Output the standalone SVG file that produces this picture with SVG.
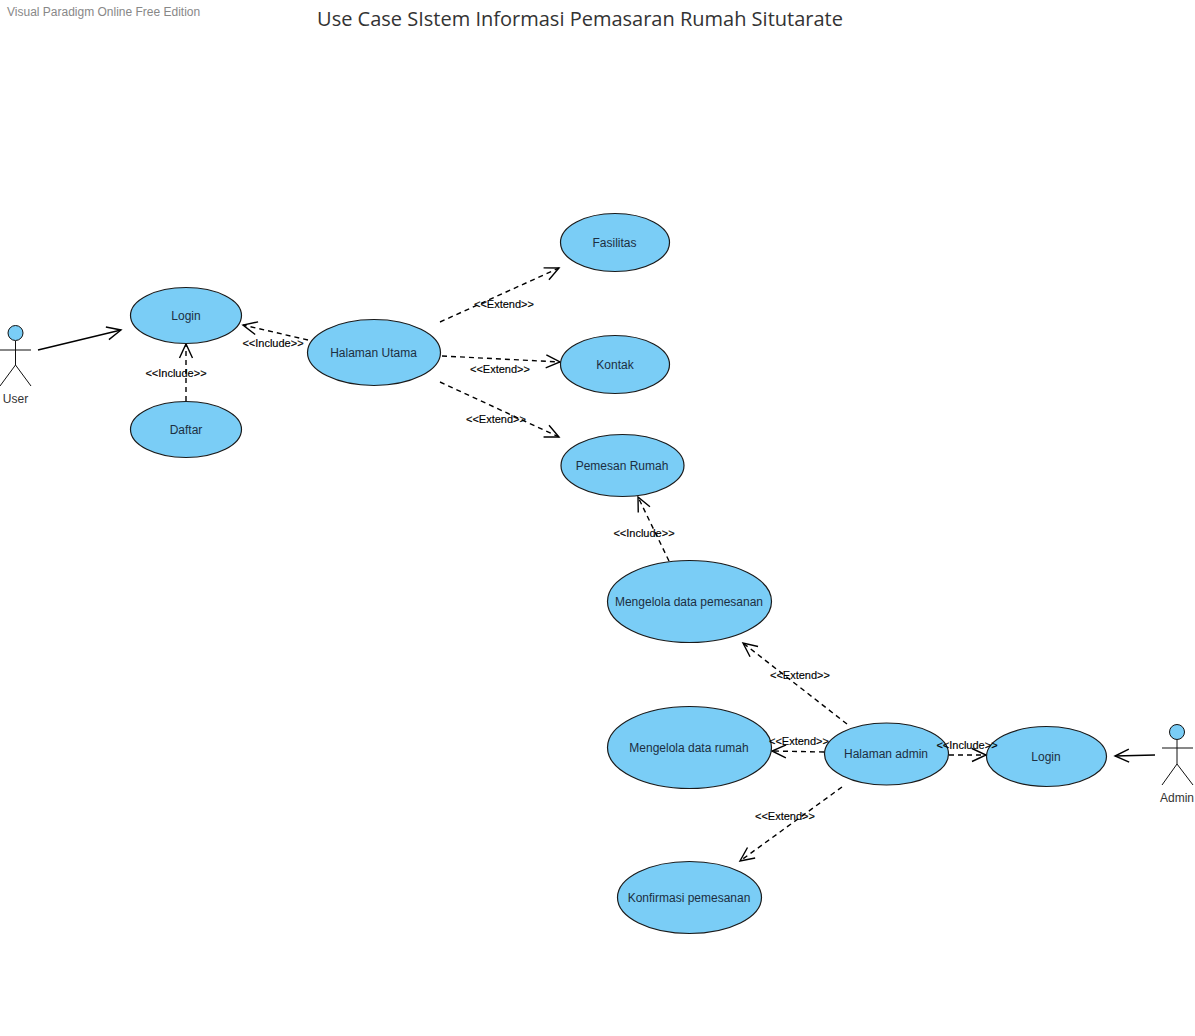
<svg xmlns="http://www.w3.org/2000/svg" width="1195" height="1036" viewBox="0 0 1195 1036">
<style>
text{font-family:"Liberation Sans",Arial,sans-serif}
.uc{fill:#7acdf6;stroke:#1a1a1a;stroke-width:1.2}
.n{font-size:12px;fill:#1c2f42;text-anchor:middle}
.l{font-size:11px;fill:#000;text-anchor:middle;stroke:#000;stroke-width:.15}
.a{font-size:12px;fill:#333;text-anchor:middle}
.c{fill:none;stroke:#000;stroke-width:1.4}
.d{stroke-dasharray:5 4}
.s{fill:none;stroke:#111;stroke-width:1}
.h{fill:#7acdf6;stroke:#111;stroke-width:1}
</style>
<defs>
<marker id="o" markerUnits="userSpaceOnUse" markerWidth="18" markerHeight="18" refX="15" refY="9" orient="auto"><path d="M1 2.5L15 9L1 15.5" fill="none" stroke="#000" stroke-width="1.4"/></marker>
</defs>
<rect width="1195" height="1036" fill="#fff"/>
<text x="7" y="16" font-size="12" fill="#888">Visual Paradigm Online Free Edition</text>
<text x="580" y="26" font-size="20" fill="#333" text-anchor="middle" style="font-family:'Open Sans',sans-serif">Use Case SIstem Informasi Pemasaran Rumah Situtarate</text>
<g id="connectors">
<path class="c" marker-end="url(#o)" d="M38 350L121 330"/>
<path class="c d" marker-end="url(#o)" d="M186 401V344"/>
<path class="c d" marker-end="url(#o)" d="M308 340L243 325"/>
<path class="c d" marker-end="url(#o)" d="M440 322L559 268"/>
<path class="c d" marker-end="url(#o)" d="M442 356L560 362"/>
<path class="c d" marker-end="url(#o)" d="M440 382L559 437"/>
<path class="c d" marker-end="url(#o)" d="M669 561L638 497"/>
<path class="c d" marker-end="url(#o)" d="M847 724L743 643"/>
<path class="c d" marker-end="url(#o)" d="M824 752L772 751"/>
<path class="c d" marker-end="url(#o)" d="M842 787L740 861"/>
<path class="c d" marker-end="url(#o)" d="M949 755L986 755"/>
<path class="c" marker-end="url(#o)" d="M1155 755L1115 756"/>
</g>
<g id="user"><circle class="h" cx="15.500" cy="333" r="7.500"/><path class="s" d="M15.500 341V365M0 350H31M15.500 365L0 386M15.500 365L31 386"/><text class="a" x="15.500" y="403">User</text></g>
<g id="admin"><circle class="h" cx="1177" cy="732" r="7.500"/><path class="s" d="M1177 740V764M1162 748H1193M1177 764L1162 785M1177 764L1193 785"/><text class="a" x="1177" y="802">Admin</text></g>
<g id="login1"><ellipse class="uc" cx="186" cy="315.500" rx="55.500" ry="28"/><text class="n" x="186" y="320">Login</text></g>
<g id="daftar"><ellipse class="uc" cx="186" cy="429.500" rx="55.500" ry="28"/><text class="n" x="186" y="434">Daftar</text></g>
<g id="halaman-utama"><ellipse class="uc" cx="374" cy="352.500" rx="66.500" ry="33"/><text class="n" x="373.500" y="357">Halaman Utama</text></g>
<g id="fasilitas"><ellipse class="uc" cx="615" cy="242.500" rx="54.500" ry="29"/><text class="n" x="614.500" y="247">Fasilitas</text></g>
<g id="kontak"><ellipse class="uc" cx="615" cy="364.500" rx="54.500" ry="29"/><text class="n" x="615" y="369">Kontak</text></g>
<g id="pemesan-rumah"><ellipse class="uc" cx="622.500" cy="465.500" rx="61.500" ry="31"/><text class="n" x="622" y="470">Pemesan Rumah</text></g>
<g id="mengelola-pemesanan"><ellipse class="uc" cx="689.500" cy="601.500" rx="82" ry="41"/><text class="n" x="689" y="606">Mengelola data pemesanan</text></g>
<g id="mengelola-rumah"><ellipse class="uc" cx="689.500" cy="747.500" rx="82" ry="41"/><text class="n" x="689" y="752">Mengelola data rumah</text></g>
<g id="halaman-admin"><ellipse class="uc" cx="886.500" cy="754" rx="62" ry="31"/><text class="n" x="886" y="758">Halaman admin</text></g>
<g id="login2"><ellipse class="uc" cx="1046.500" cy="756.500" rx="60" ry="30"/><text class="n" x="1046" y="761">Login</text></g>
<g id="konfirmasi"><ellipse class="uc" cx="689.500" cy="897.500" rx="72" ry="36"/><text class="n" x="689" y="902">Konfirmasi pemesanan</text></g>
<g id="connector-labels">
<text class="l" x="176" y="377">&lt;&lt;Include&gt;&gt;</text>
<text class="l" x="273" y="347">&lt;&lt;Include&gt;&gt;</text>
<text class="l" x="504" y="308">&lt;&lt;Extend&gt;&gt;</text>
<text class="l" x="500" y="373">&lt;&lt;Extend&gt;&gt;</text>
<text class="l" x="496" y="423">&lt;&lt;Extend&gt;&gt;</text>
<text class="l" x="644" y="537">&lt;&lt;Include&gt;&gt;</text>
<text class="l" x="800" y="679">&lt;&lt;Extend&gt;&gt;</text>
<text class="l" x="799" y="745">&lt;&lt;Extend&gt;&gt;</text>
<text class="l" x="785" y="820">&lt;&lt;Extend&gt;&gt;</text>
<text class="l" x="967" y="749">&lt;&lt;Include&gt;&gt;</text>
</g>
</svg>
